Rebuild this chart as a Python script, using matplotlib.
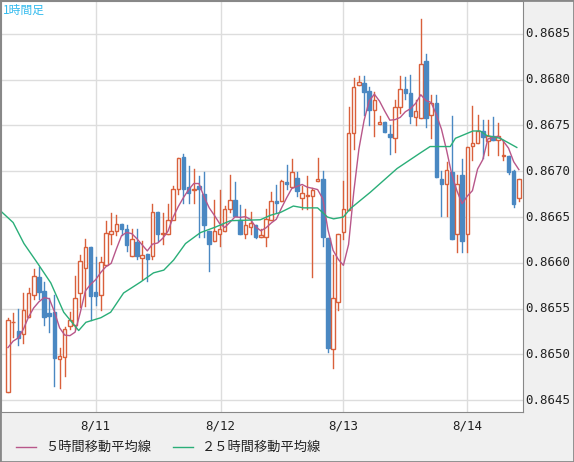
import matplotlib
matplotlib.use("Agg")
import matplotlib.pyplot as plt
import numpy as np

plt.rcParams['font.family'] = ['Noto Sans CJK JP', 'DejaVu Sans']

# OHLC, one hour candles
opens = [0.86459, 0.86535, 0.86525, 0.86522, 0.86541, 0.86565, 0.86585, 0.86569, 0.86545, 0.86546,
         0.86495, 0.86497, 0.86531, 0.86532, 0.86567, 0.86594, 0.86617, 0.86568, 0.86565, 0.86598,
         0.86631, 0.86635, 0.86642, 0.86637, 0.86607, 0.86623, 0.86605, 0.86610, 0.86607, 0.86656,
         0.86632, 0.86632, 0.86647, 0.86681, 0.86716, 0.86683, 0.86680, 0.86684, 0.86675, 0.86635,
         0.86624, 0.86632, 0.86635, 0.86659, 0.86669, 0.86647, 0.86632, 0.86639, 0.86641, 0.86628,
         0.86628, 0.86647, 0.86668, 0.86668, 0.86688, 0.86683, 0.86693, 0.86671, 0.86673, 0.86673,
         0.86689, 0.86692, 0.86627, 0.86506, 0.86557, 0.86634, 0.86658, 0.86742, 0.86794, 0.86796,
         0.86788, 0.86767, 0.86752, 0.86754, 0.86741, 0.86736, 0.86770, 0.86790, 0.86786, 0.86759,
         0.86758, 0.86820, 0.86761, 0.86775, 0.86691, 0.86686, 0.86699, 0.86632, 0.86696, 0.86632,
         0.86728, 0.86731, 0.86744, 0.86733, 0.86738, 0.86734, 0.86717, 0.86717, 0.86700, 0.86671]
closes = [0.86537, 0.86535, 0.86518, 0.86548, 0.86567, 0.86586, 0.86568, 0.86541, 0.86542, 0.86496,
          0.86498, 0.86528, 0.86538, 0.86561, 0.86602, 0.86617, 0.86564, 0.86564, 0.86601, 0.86633,
          0.86635, 0.86642, 0.86637, 0.86619, 0.86626, 0.86607, 0.86609, 0.86604, 0.86656, 0.86632,
          0.86633, 0.86647, 0.86681, 0.86714, 0.86681, 0.86676, 0.86681, 0.86681, 0.86641, 0.86621,
          0.86635, 0.86637, 0.86659, 0.86669, 0.86651, 0.86632, 0.86641, 0.86644, 0.86628, 0.86630,
          0.86648, 0.86667, 0.86665, 0.86689, 0.86686, 0.86699, 0.86678, 0.86676, 0.86674, 0.86680,
          0.86692, 0.86628, 0.86507, 0.86561, 0.86631, 0.86659, 0.86742, 0.86792, 0.86797, 0.86787,
          0.86767, 0.86778, 0.86754, 0.86743, 0.86737, 0.86770, 0.86790, 0.86785, 0.86760, 0.86766,
          0.86817, 0.86758, 0.86775, 0.86694, 0.86686, 0.86701, 0.86626, 0.86686, 0.86624, 0.86727,
          0.86731, 0.86744, 0.86737, 0.86738, 0.86734, 0.86738, 0.86717, 0.86699, 0.86664, 0.86691]
highs = [0.86540, 0.86545, 0.86550, 0.86567, 0.86573, 0.86593, 0.86595, 0.86579, 0.86561, 0.86565,
         0.86507, 0.86530, 0.86546, 0.86586, 0.86609, 0.86626, 0.86617, 0.86606, 0.86606, 0.86646,
         0.86654, 0.86652, 0.86642, 0.86641, 0.86637, 0.86637, 0.86624, 0.86610, 0.86664, 0.86656,
         0.86654, 0.86664, 0.86684, 0.86715, 0.86719, 0.86706, 0.86703, 0.86695, 0.86699, 0.86635,
         0.86669, 0.86679, 0.86662, 0.86696, 0.86688, 0.86663, 0.86659, 0.86655, 0.86641, 0.86637,
         0.86659, 0.86677, 0.86685, 0.86690, 0.86707, 0.86713, 0.86699, 0.86684, 0.86695, 0.86682,
         0.86714, 0.86700, 0.86627, 0.86608, 0.86631, 0.86689, 0.86770, 0.86802, 0.86804, 0.86804,
         0.86792, 0.86787, 0.86760, 0.86754, 0.86750, 0.86778, 0.86804, 0.86803, 0.86805, 0.86778,
         0.86866, 0.86828, 0.86783, 0.86783, 0.86700, 0.86710, 0.86760, 0.86696, 0.86713, 0.86727,
         0.86771, 0.86761, 0.86756, 0.86756, 0.86759, 0.86753, 0.86734, 0.86717, 0.86701, 0.86691]
lows = [0.86459, 0.86519, 0.86510, 0.86512, 0.86541, 0.86560, 0.86560, 0.86532, 0.86524, 0.86465,
        0.86463, 0.86476, 0.86528, 0.86528, 0.86552, 0.86553, 0.86538, 0.86554, 0.86548, 0.86598,
        0.86621, 0.86630, 0.86630, 0.86613, 0.86607, 0.86604, 0.86582, 0.86580, 0.86604, 0.86624,
        0.86621, 0.86632, 0.86654, 0.86675, 0.86665, 0.86665, 0.86665, 0.86628, 0.86628, 0.86591,
        0.86624, 0.86618, 0.86635, 0.86655, 0.86651, 0.86632, 0.86627, 0.86632, 0.86627, 0.86628,
        0.86618, 0.86647, 0.86655, 0.86668, 0.86681, 0.86683, 0.86673, 0.86659, 0.86659, 0.86584,
        0.86689, 0.86618, 0.86503, 0.86485, 0.86548, 0.86626, 0.86658, 0.86724, 0.86794, 0.86762,
        0.86751, 0.86739, 0.86752, 0.86743, 0.86719, 0.86721, 0.86764, 0.86779, 0.86753, 0.86750,
        0.86758, 0.86748, 0.86736, 0.86694, 0.86651, 0.86651, 0.86626, 0.86612, 0.86612, 0.86612,
        0.86712, 0.86731, 0.86715, 0.86718, 0.86734, 0.86718, 0.86712, 0.86697, 0.86661, 0.86668]

# closes before the first drawn candle, for the 5 hour average
pre_closes = [0.8650, 0.8650, 0.8650, 0.8650]

# 25 hour average (candle index, price)
ma25_idx = [-1.3, 1, 3.1, 5.8, 8.3, 10.8, 13.7, 15.1, 18, 19.9, 22.4, 25.7, 28.2, 30.2, 32.1, 34.4,
            37.3, 40.2, 43.1, 48.9, 50.9, 52.8, 55.3, 57.3, 60, 61.9, 63.1, 65, 66.3, 70.2, 75.4,
            79.9, 81.8, 85.7, 86.7, 90.1, 91.5, 92.8, 95.4, 98.6]
ma25_val = [0.86656, 0.86644, 0.86621, 0.86599, 0.86578, 0.86546, 0.86526, 0.86535, 0.86540, 0.86546,
            0.86567, 0.86579, 0.86589, 0.86592, 0.86603, 0.86621, 0.86633, 0.86639, 0.86646, 0.86647,
            0.86652, 0.86655, 0.86662, 0.86660, 0.86660, 0.86650, 0.86648, 0.86650, 0.86659, 0.86677,
            0.86703, 0.86720, 0.86727, 0.86727, 0.86736, 0.86744, 0.86744, 0.86739, 0.86736, 0.86726]

date_idx = [17, 41.2, 65, 89]
date_labels = ['8/11', '8/12', '8/13', '8/14']
yticks = [0.8645, 0.8650, 0.8655, 0.8660, 0.8665, 0.8670, 0.8675, 0.8680, 0.8685]

UP = '#d9603b'
DOWN = '#4a88c2'
MA5_C = '#b8578a'
MA25_C = '#2aae78'

W, H = 574, 462
YLO, YHI = 0.86437, 0.86886
fig = plt.figure(figsize=(W / 100, H / 100), dpi=100)
fig.patch.set_facecolor('#f0f0f0')
ax = fig.add_axes([1 / W, 50 / H, 522 / W, 411 / H])
ax.set_xlim(-1.35, 99.8)
ax.set_ylim(YLO, YHI)

for v in yticks:
    ax.axhline(v, color='#dddddd', lw=1, zorder=0)
for d in date_idx:
    ax.axvline(d, color='#dddddd', lw=1, zorder=0)

bw = 0.68
for i in range(len(opens)):
    o, c, h, l = opens[i], closes[i], highs[i], lows[i]
    col = UP if c >= o else DOWN
    ax.plot([i, i], [l, h], color=col, lw=1, zorder=2)
    bot = min(o, c)
    ht = max(abs(c - o), 0.000008)
    face = 'white' if c >= o else col
    ax.add_patch(plt.Rectangle((i - bw / 2, bot), bw, ht, facecolor=face,
                               edgecolor=col, lw=1, zorder=3))

allc = np.array(pre_closes + closes)
ma5 = np.convolve(allc, np.ones(5) / 5, mode='valid')
ax.plot(np.arange(len(closes)), ma5, color=MA5_C, lw=1, zorder=4)
ax.plot(ma25_idx, ma25_val, color=MA25_C, lw=1, zorder=4)

ax.set_xticks([])
ax.set_yticks([])
for s in ax.spines.values():
    s.set_color('#888888')

# price labels on the right
for v in yticks:
    ax.text(1.005, (v - YLO) / (YHI - YLO), '%.4f' % v, transform=ax.transAxes,
            ha='left', va='center', fontsize=9, family='DejaVu Sans Mono', color='#222222')
for d, lab in zip(date_idx, date_labels):
    ax.text(d, YLO - 0.00015, lab, ha='center', va='center', fontsize=9,
            family='DejaVu Sans Mono', color='#222222', clip_on=False)

fig.text(3 / W, 1 - 10 / H, '1時間足', fontsize=8.5, color='#33bbee', va='center')

# legend below the chart
ly = 1 - 447 / H
fig.add_artist(plt.Line2D([16 / W, 36 / W], [ly, ly], color=MA5_C, lw=1))
fig.text(45 / W, ly, '５時間移動平均線', fontsize=9.5, va='center', color='#222222')
fig.add_artist(plt.Line2D([173 / W, 193 / W], [ly, ly], color=MA25_C, lw=1))
fig.text(202 / W, ly, '２５時間移動平均線', fontsize=9.5, va='center', color='#222222')

# outer frame
fig.add_artist(plt.Rectangle((0, 0), 1, 1, transform=fig.transFigure, fill=False,
                             edgecolor='#888888', lw=2))

fig.savefig('out.png', dpi=100, facecolor=fig.get_facecolor())
